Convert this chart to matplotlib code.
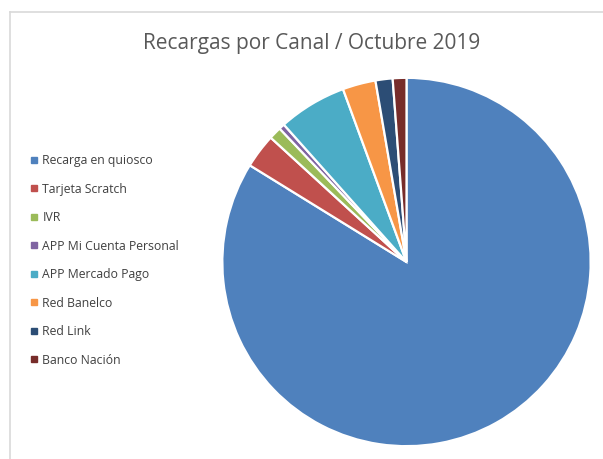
import matplotlib
matplotlib.use('Agg')
import matplotlib.pyplot as plt
from matplotlib.lines import Line2D

plt.rcParams['font.family'] = ['Open Sans', 'DejaVu Sans']

# Share of top-ups per channel (%), October 2019
canales = ['Recarga en quiosco', 'Tarjeta Scratch', 'IVR', 'APP Mi Cuenta Personal',
           'APP Mercado Pago', 'Red Banelco', 'Red Link', 'Banco Nación']
porcentajes = [83.8, 3.0, 1.1, 0.5, 6.0, 2.9, 1.5, 1.2]
colores = ['#4F81BD', '#C0504D', '#9BBB59', '#8064A2',
           '#4BACC6', '#F79646', '#2C4D75', '#772C2A']

W, H = 603, 459
fig = plt.figure(figsize=(W / 100, H / 100), dpi=100)

# chart-area border (light gray, top and left edges)
fig.add_artist(Line2D([10 / W, 10 / W], [0, 1 - 12 / H], color='#d9d9d9', lw=1.2))
fig.add_artist(Line2D([10 / W, 1], [1 - 12 / H, 1 - 12 / H], color='#d9d9d9', lw=1.2))

cx, cy, r = 406.5, 262, 186
ax = fig.add_axes([(cx - r) / W, (H - cy - r) / H, 2 * r / W, 2 * r / H])
wedges, _ = ax.pie(porcentajes, colors=colores, startangle=90, counterclock=False,
                   radius=1, wedgeprops=dict(edgecolor='white', linewidth=1.6))
ax.set_xlim(-1.01, 1.01)
ax.set_ylim(-1.01, 1.01)
ax.set_aspect('equal')

fig.text(312 / W, 1 - 43 / H, 'Recargas por Canal / Octubre 2019', ha='center', va='center',
         fontsize=15, color='#595959')

handles = [Line2D([], [], marker='s', linestyle='none', markersize=4, color=c) for c in colores]
leg = fig.legend(handles, canales, loc='upper left', bbox_to_anchor=(24 / W, 1 - 148 / H),
                 frameon=False, fontsize=8.8, labelcolor='#404040', handlelength=0.6,
                 handletextpad=0.4, labelspacing=1.27, borderpad=0)

fig.savefig('out.png', dpi=100)
